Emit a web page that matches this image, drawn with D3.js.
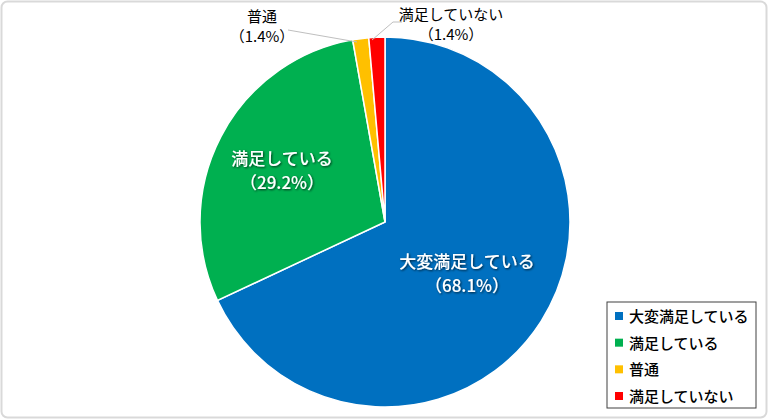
<!DOCTYPE html>
<html><head><meta charset="utf-8">
<script src="https://cdn.jsdelivr.net/npm/d3@7"></script>
<style>
body{margin:0;background:#fff;}
svg{display:block;font-family:"Noto Sans CJK JP","Noto Sans",sans-serif;}
</style></head>
<body><svg width="768" height="419"></svg>
<script>
const categories = ['大変満足している', '満足している', '普通', '満足していない'];
const values = [68.1, 29.2, 1.4, 1.4];
const colors = ['#0070C0', '#00B050', '#FFC000', '#FF0000'];

const svg = d3.select('svg');
svg.append('rect').attr('x', 1.5).attr('y', 1.5).attr('width', 765).attr('height', 416)
  .attr('rx', 6).attr('fill', '#fff').attr('stroke', '#d9d9d9').attr('stroke-width', 2);

const defs = svg.append('defs');
const f = defs.append('filter').attr('id', 'sh').attr('x', '-20%').attr('y', '-20%').attr('width', '140%').attr('height', '140%');
f.append('feDropShadow').attr('dx', 1).attr('dy', 1).attr('stdDeviation', 1).attr('flood-color', '#000').attr('flood-opacity', 0.7);

const cx = 385, cy = 222, r = 185;
const data = categories.map((c, i) => ({ c, v: values[i], col: colors[i] }));
const pie = d3.pie().sort(null).value((d) => d.v);
const arc = d3.arc().innerRadius(0).outerRadius(r);
const arcs = pie(data);
const g = svg.append('g').attr('transform', `translate(${cx},${cy})`);
g.selectAll('path').data(arcs).join('path')
  .attr('d', arc).attr('fill', (d) => d.data.col)
  .attr('stroke', '#fff').attr('stroke-width', 1.5);

// inner labels
const inner = [{ i: 0, x: 467, y: 268 }, { i: 1, x: 282, y: 165 }];
inner.forEach((p) => {
  const t = svg.append('text').attr('x', p.x).attr('y', p.y).attr('text-anchor', 'middle')
    .attr('fill', '#fff').attr('font-size', 17).attr('font-weight', 500).attr('filter', 'url(#sh)');
  t.append('tspan').attr('x', p.x).attr('dy', 0).text(categories[p.i]);
  t.append('tspan').attr('x', p.x).attr('dy', 24).text(`（${values[p.i]}%）`);
});

// outer labels with leader lines
const outer = [
  { i: 2, x: 262, y: 22, line: [[288, 30], [357, 42]] },
  { i: 3, x: 451, y: 20, line: [[372, 40], [393, 22], [402, 22]] },
];
outer.forEach((p) => {
  const c = arc.centroid(arcs[p.i]);
  svg.append('path').attr('d', d3.line()(p.line)).attr('fill', 'none')
    .attr('stroke', '#bfbfbf').attr('stroke-width', 1);
  const t = svg.append('text').attr('x', p.x).attr('y', p.y).attr('text-anchor', 'middle')
    .attr('fill', '#000').attr('font-size', 15);
  t.append('tspan').attr('x', p.x).text(categories[p.i]);
  t.append('tspan').attr('x', p.x).attr('dy', 20).text(`（${values[p.i]}%）`);
});

// legend
const lg = svg.append('g');
lg.append('rect').attr('x', 607).attr('y', 302).attr('width', 149).attr('height', 106)
  .attr('fill', '#fff').attr('stroke', '#404040').attr('stroke-width', 1);
const ly = d3.scalePoint().domain(categories).range([316, 396]);
categories.forEach((c, i) => {
  lg.append('rect').attr('x', 615).attr('y', ly(c) - 4).attr('width', 8).attr('height', 8).attr('fill', colors[i]);
  lg.append('text').attr('x', 629).attr('y', ly(c) + 6).attr('font-size', 15).attr('font-weight', 500).text(c);
});
</script></body></html>
